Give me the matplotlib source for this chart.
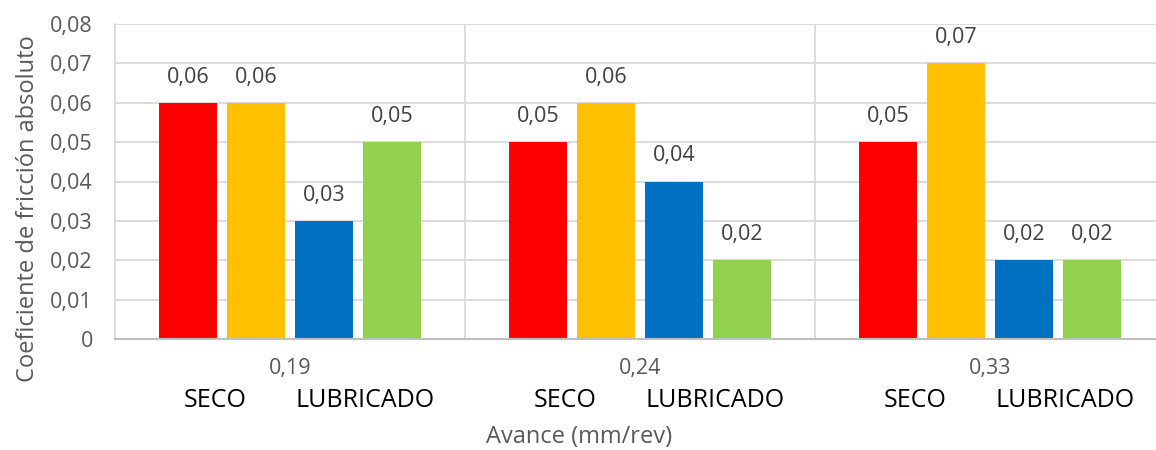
import matplotlib
matplotlib.use("Agg")
import matplotlib.pyplot as plt
import numpy as np

# Feed rates (mm/rev) and friction coefficient per condition
avance = ["0,19", "0,24", "0,33"]
seco_1 = [0.06, 0.05, 0.05]
seco_2 = [0.06, 0.06, 0.07]
lubricado_1 = [0.03, 0.04, 0.02]
lubricado_2 = [0.05, 0.02, 0.02]
y_ticks = [0, 0.01, 0.02, 0.03, 0.04, 0.05, 0.06, 0.07, 0.08]
condiciones = ["SECO", "LUBRICADO"]

series = [seco_1, seco_2, lubricado_1, lubricado_2]
colores = ["#FF0000", "#FFC000", "#0070C0", "#92D050"]
offsets = [-0.291, -0.097, 0.097, 0.291]
bar_w = 0.166

plt.rcParams["font.family"] = ["Open Sans", "DejaVu Sans"]

W, H = 1156, 450
fig = plt.figure(figsize=(W / 100, H / 100), dpi=100)
left, right, top, bottom = 115, 1156, 24, 339
ax = fig.add_axes([left / W, 1 - bottom / H, (right - left) / W, (bottom - top) / H])

x = np.arange(len(avance))
ax.set_xlim(-0.5, -0.5 + (right - left) / 350)
ax.set_ylim(0, 0.08)

for vals, col, off in zip(series, colores, offsets):
    bars = ax.bar(x + off, vals, width=bar_w, color=col, zorder=3)
    for b, v in zip(bars, vals):
        ax.annotate(f"{v:.2f}".replace(".", ","),
                    (b.get_x() + b.get_width() / 2, v),
                    xytext=(0, 18.5), textcoords="offset points",
                    ha="center", va="center", fontsize=15.5, color="#404040")

# grid and group separators
for t in y_ticks[1:]:
    ax.axhline(t, color="#D9D9D9", lw=1.3, zorder=1)
for s in [0.5, 1.5]:
    ax.axvline(s, color="#D9D9D9", lw=1.3, zorder=1)

for sp in ["top", "right"]:
    ax.spines[sp].set_visible(False)
ax.spines["left"].set_color("#D9D9D9")
ax.spines["left"].set_linewidth(1.3)
ax.spines["bottom"].set_color("#BFBFBF")
ax.spines["bottom"].set_linewidth(1.5)
ax.spines["bottom"].set_zorder(4)

ax.set_yticks(y_ticks)
ax.set_yticklabels(["0" if t == 0 else f"{t:.2f}".replace(".", ",") for t in y_ticks],
                   fontsize=15.5, color="#595959")
ax.tick_params(axis="y", length=0, pad=16)
ax.set_xticks(x)
ax.set_xticklabels(avance, fontsize=15.5, color="#595959")
ax.tick_params(axis="x", length=0, pad=14)

# condition labels under each group
for xi in x:
    ax.text(xi - 0.215, -0.0155, condiciones[0], ha="center", va="center",
            fontsize=18, color="black", transform=ax.transData, clip_on=False)
    ax.text(xi + 0.215, -0.0155, condiciones[1], ha="center", va="center",
            fontsize=18, color="black", transform=ax.transData, clip_on=False)

fig.text(579 / W, 1 - 437 / H, "Avance (mm/rev)", ha="center", va="center",
         fontsize=17, color="#595959")
fig.text(28 / W, 1 - 209 / H, "Coeficiente de fricción absoluto", ha="center",
         va="center", rotation=90, fontsize=17, color="#595959")

fig.savefig("out.png", dpi=100)
